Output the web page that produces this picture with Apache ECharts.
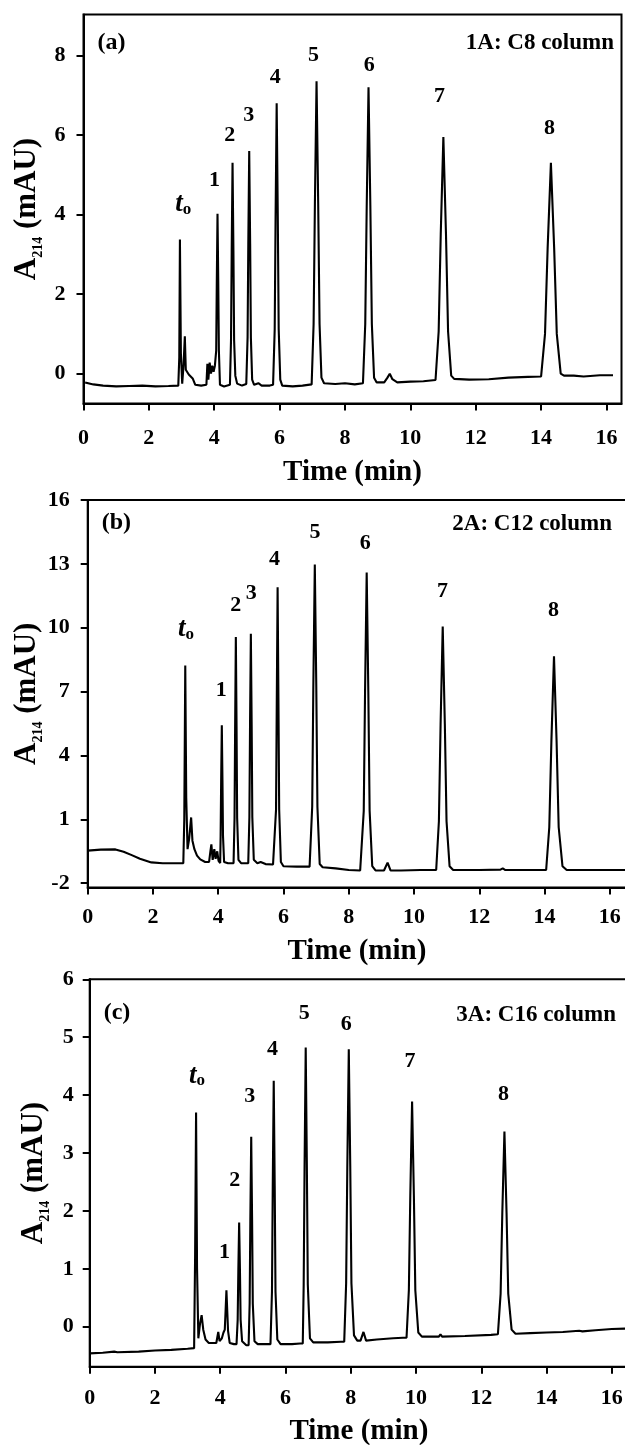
<!DOCTYPE html>
<html>
<head>
<meta charset="utf-8">
<script src="https://cdn.jsdelivr.net/npm/echarts@6/dist/echarts.min.js"></script>
<style>
  html, body { margin: 0; padding: 0; background: #fff; }
  #chart { width: 625px; height: 1445px; }
</style>
</head>
<body>
<div id="chart"></div>
<script>
// Axis ticks
const timeTicks = [0, 2, 4, 6, 8, 10, 12, 14, 16];
const yTicksA = [0, 2, 4, 6, 8];
const yTicksB = [-2, 1, 4, 7, 10, 13, 16];
const yTicksC = [0, 1, 2, 3, 4, 5, 6];

// Chromatogram traces: [time (min), A214 (mAU)]
const traceA = [
  [0.05,-0.22],[0.3,-0.27],[0.6,-0.3],[1.0,-0.32],[1.4,-0.31],[1.8,-0.3],[2.2,-0.32],[2.6,-0.31],[2.9,-0.3],
  [2.93,0.4],[2.95,3.37],[2.98,0.5],[3.02,-0.25],[3.06,0.2],[3.1,0.94],[3.13,0.1],[3.17,0.05],[3.22,-0.02],
  [3.28,0.0],[3.34,-0.12],[3.42,-0.28],[3.6,-0.3],[3.76,-0.28],
  [3.79,0.25],[3.82,-0.15],[3.86,0.28],[3.9,0.0],[3.94,0.2],[3.98,0.05],[4.02,0.2],
  [4.06,0.58],[4.078,2.3],[4.1,4.02],[4.123,2.3],[4.142,0.58],[4.175,-0.28],[4.3,-0.32],
  [4.48,-0.28],[4.513,0.84],[4.534,3.07],[4.56,5.3],[4.587,3.07],[4.608,0.84],[4.645,-0.05],[4.7,-0.25],[4.85,-0.3],
  [4.98,-0.26],[5.02,0.91],[5.042,3.26],[5.07,5.6],[5.099,3.26],[5.121,0.91],[5.16,-0.15],[5.22,-0.28],
  [5.35,-0.24],[5.45,-0.3],[5.7,-0.3],
  [5.8,-0.28],[5.85,1.12],[5.877,3.96],[5.91,6.8],[5.944,3.96],[5.972,1.12],[6.02,-0.15],[6.08,-0.3],[6.4,-0.32],[6.7,-0.3],
  [6.98,-0.27],[7.04,1.25],[7.08,4.3],[7.13,7.35],[7.18,4.3],[7.222,1.25],[7.28,-0.1],[7.36,-0.24],[7.7,-0.26],[8.0,-0.24],[8.3,-0.27],
  [8.55,-0.24],[8.62,1.25],[8.665,4.22],[8.72,7.2],[8.776,4.22],[8.822,1.25],[8.89,-0.1],[8.97,-0.22],
  [9.2,-0.22],[9.3,-0.1],[9.37,0.0],[9.45,-0.14],[9.6,-0.22],[10.0,-0.2],[10.4,-0.19],
  [10.77,-0.16],[10.866,1.06],[10.93,3.51],[11.01,5.95],[11.09,3.51],[11.154,1.06],[11.25,-0.05],[11.34,-0.13],
  [11.8,-0.15],[12.4,-0.14],[13.0,-0.1],[13.6,-0.08],
  [14.0,-0.07],[14.12,1.0],[14.2,3.15],[14.3,5.3],[14.4,3.15],[14.48,1.0],[14.6,0.0],[14.7,-0.05],
  [15.0,-0.05],[15.3,-0.07],[15.35,-0.02],[15.8,-0.04],[16.2,-0.04]
];
const traceB = [
  [0.0,-0.47],[0.4,-0.42],[0.85,-0.41],[1.1,-0.52],[1.35,-0.68],[1.6,-0.85],[1.95,-1.02],[2.3,-1.06],[2.93,-1.06],
  [2.96,1.0],[2.99,8.23],[3.02,2.0],[3.06,-0.4],[3.11,0.1],[3.17,1.09],[3.21,0.0],[3.27,-0.4],[3.35,-0.7],
  [3.45,-0.88],[3.6,-1.0],[3.72,-1.0],
  [3.76,-0.5],[3.79,-0.17],[3.83,-0.9],[3.88,-0.4],[3.92,-0.85],[3.97,-0.5],[4.01,-0.95],[4.06,-1.05],
  [4.074,0.24],[4.09,2.83],[4.11,5.42],[4.13,2.83],[4.146,0.24],[4.18,-1.0],[4.3,-1.06],
  [4.47,-1.06],[4.5,1.06],[4.518,5.31],[4.54,9.56],[4.562,5.31],[4.58,1.06],[4.62,-0.9],[4.7,-1.06],[4.85,-1.06],
  [4.92,-1.06],[4.955,1.1],[4.975,5.41],[5.0,9.72],[5.025,5.41],[5.045,1.1],[5.09,-0.9],[5.2,-1.06],
  [5.3,-1.0],[5.45,-1.1],[5.68,-1.12],
  [5.74,-1.15],[5.772,1.46],[5.795,6.68],[5.82,11.9],[5.845,6.68],[5.868,1.46],[5.92,-1.0],[6.0,-1.2],[6.4,-1.22],[6.8,-1.22],
  [6.84,-1.22],[6.88,1.59],[6.915,7.28],[6.96,12.97],[7.005,7.28],[7.04,1.59],[7.11,-1.1],[7.2,-1.25],
  [7.6,-1.3],[8.0,-1.38],[8.35,-1.4],
  [8.4,-1.4],[8.46,1.4],[8.5,7.0],[8.55,12.6],[8.6,7.0],[8.64,1.4],[8.72,-1.2],[8.82,-1.4],
  [9.08,-1.4],[9.19,-1.03],[9.28,-1.4],[9.6,-1.4],[10.2,-1.38],[10.6,-1.38],
  [10.68,-1.38],[10.763,0.91],[10.815,5.48],[10.88,10.06],[10.945,5.48],[10.997,0.91],[11.09,-1.2],[11.2,-1.38],
  [12.0,-1.38],[12.65,-1.36],[12.72,-1.3],[12.8,-1.38],[13.5,-1.38],
  [14.05,-1.38],[14.146,0.63],[14.21,4.64],[14.29,8.66],[14.37,4.64],[14.434,0.63],[14.55,-1.2],[14.68,-1.38],
  [15.5,-1.38],[16.5,-1.38]
];
const traceC = [
  [0.0,-0.46],[0.4,-0.45],[0.75,-0.43],[0.8,-0.4],[0.85,-0.44],[1.5,-0.43],[2.0,-0.41],[2.5,-0.4],[3.0,-0.38],[3.2,-0.37],
  [3.23,1.2],[3.26,3.7],[3.29,1.0],[3.33,-0.2],[3.38,0.05],[3.43,0.2],[3.48,-0.05],[3.55,-0.22],[3.65,-0.28],[3.88,-0.28],
  [3.94,-0.09],[3.98,-0.25],[4.05,-0.2],[4.1,-0.1],
  [4.14,-0.05],[4.165,0.28],[4.19,0.63],[4.215,0.28],[4.24,-0.07],[4.29,-0.28],[4.42,-0.3],
  [4.5,-0.3],[4.535,0.12],[4.555,0.96],[4.58,1.8],[4.605,0.96],[4.625,0.12],[4.67,-0.25],[4.8,-0.32],
  [4.87,-0.32],[4.902,0.4],[4.923,1.84],[4.95,3.28],[4.977,1.84],[4.998,0.4],[5.05,-0.25],[5.15,-0.3],[5.4,-0.3],
  [5.54,-0.3],[5.586,0.61],[5.61,2.43],[5.64,4.25],[5.67,2.43],[5.694,0.61],[5.75,-0.22],[5.85,-0.3],[6.2,-0.3],[6.45,-0.29],
  [6.53,-0.29],[6.558,0.73],[6.585,2.78],[6.62,4.82],[6.655,2.78],[6.684,0.73],[6.75,-0.2],[6.85,-0.27],[7.3,-0.27],[7.7,-0.26],
  [7.8,-0.26],[7.859,0.75],[7.895,2.77],[7.94,4.79],[7.985,2.77],[8.021,0.75],[8.1,-0.15],[8.2,-0.24],
  [8.3,-0.24],[8.39,-0.09],[8.47,-0.24],[8.8,-0.22],[9.3,-0.2],[9.6,-0.19],
  [9.71,-0.19],[9.781,0.63],[9.825,2.26],[9.88,3.89],[9.935,2.26],[9.979,0.63],[10.07,-0.1],[10.18,-0.17],
  [10.7,-0.17],[10.75,-0.13],[10.8,-0.17],[11.5,-0.16],[12.3,-0.14],
  [12.51,-0.13],[12.593,0.57],[12.645,1.97],[12.71,3.37],[12.775,1.97],[12.827,0.57],[12.93,-0.05],[13.05,-0.12],
  [13.5,-0.11],[14.0,-0.1],[14.5,-0.09],[15.0,-0.07],[15.05,-0.05],[15.1,-0.08],[15.5,-0.06],[16.0,-0.04],[16.5,-0.03]
];

// Peak tags (void marker t0 and analytes 1-8), anchored in data coordinates
const peakNames = ['to', '1', '2', '3', '4', '5', '6', '7', '8'];
const tagA = [[3.07,4.25],[4.02,4.86],[4.49,5.99],[5.07,6.49],[5.88,7.45],[7.05,8.0],[8.76,7.75],[10.91,6.95],[14.27,6.16]];
const tagB = [[3.03,9.9],[4.11,7.03],[4.55,11.05],[5.03,11.6],[5.74,13.19],[6.98,14.48],[8.52,13.94],[10.89,11.67],[14.29,10.78]];
const tagC = [[3.3,4.32],[4.15,1.28],[4.46,2.52],[4.92,3.97],[5.62,4.79],[6.59,5.41],[7.88,5.21],[9.83,4.58],[12.7,4.0]];

const panelLetters = ['(a)', '(b)', '(c)'];
const columnNames = ['1A: C8 column', '2A: C12 column', '3A: C16 column'];
const xTitle = 'Time (min)';

const SERIF = "'Liberation Serif', 'Times New Roman', serif";

// Layout of the three stacked panels
const panels = [
  { left: 83.5, top: 14.5, width: 538, height: 389, xMax: 16.46, yMin: -0.75, yMax: 9.03,
    yTicks: yTicksA, trace: traceA, tags: tagA, labelMargin: 24, nameGap: 55,
    yLabelMargin: 18, yTitleX: 27, letterY: 43, colRight: 614, colY: 43 },
  { left: 87.7, top: 500, width: 538.4, height: 387.5, xMax: 16.5, yMin: -2.2, yMax: 16,
    yTicks: yTicksB, trace: traceB, tags: tagB, labelMargin: 19, nameGap: 50,
    yLabelMargin: 18, yTitleX: 27, letterY: 523, colRight: 612, colY: 524 },
  { left: 89.7, top: 979.3, width: 538.4, height: 387.4, xMax: 16.5, yMin: -0.69, yMax: 6,
    yTicks: yTicksC, trace: traceC, tags: tagC, labelMargin: 21, nameGap: 50,
    yLabelMargin: 16, yTitleX: 34, letterY: 1013, colRight: 616, colY: 1015 }
];

const axisLineStyle = { color: '#000', width: 2 };
const grids = [], xAxes = [], yAxes = [], series = [], graphics = [];

panels.forEach((p, i) => {
  grids.push({
    left: p.left, top: p.top, width: p.width, height: p.height,
    show: true, borderColor: '#000', borderWidth: 2, backgroundColor: 'transparent',
    containLabel: false, outerBoundsMode: 'none'
  });
  xAxes.push({
    type: 'value', gridIndex: i, min: 0, max: p.xMax,
    axisLine: { show: true, onZero: false, lineStyle: axisLineStyle },
    axisTick: { show: true, length: 7, inside: false, lineStyle: axisLineStyle, customValues: timeTicks },
    axisLabel: { show: true, customValues: timeTicks, margin: p.labelMargin, color: '#000',
                 fontFamily: SERIF, fontWeight: 'bold', fontSize: 22 },
    splitLine: { show: false },
    name: xTitle, nameLocation: 'middle', nameGap: p.nameGap,
    nameTextStyle: { color: '#000', fontFamily: SERIF, fontWeight: 'bold', fontSize: 29 }
  });
  yAxes.push({
    type: 'value', gridIndex: i, min: p.yMin, max: p.yMax,
    axisLine: { show: true, onZero: false, lineStyle: axisLineStyle },
    axisTick: { show: true, length: 7, inside: false, lineStyle: axisLineStyle, customValues: p.yTicks },
    axisLabel: { show: true, customValues: p.yTicks, margin: p.yLabelMargin, color: '#000',
                 fontFamily: SERIF, fontWeight: 'bold', fontSize: 22 },
    splitLine: { show: false }
  });
  series.push({
    type: 'line', xAxisIndex: i, yAxisIndex: i, data: p.trace,
    showSymbol: false, symbol: 'none', smooth: false, clip: true,
    lineStyle: { color: '#000', width: 2.1 }, silent: true, z: 3
  });
  series.push({
    type: 'scatter', xAxisIndex: i, yAxisIndex: i, symbolSize: 1,
    itemStyle: { color: 'rgba(255,255,255,0)' }, silent: true, z: 4,
    data: p.tags.map((pt, k) => ({ name: peakNames[k], value: pt })),
    label: {
      show: true, position: [0, 0], align: 'center', verticalAlign: 'middle',
      color: '#000', opacity: 1, textBorderWidth: 0, textShadowBlur: 0,
      fontFamily: SERIF, fontWeight: 'bold', fontSize: 22,
      formatter: (d) => d.name === 'to' ? '{t|t}{o|o}' : d.name,
      rich: {
        t: { fontFamily: SERIF, fontWeight: 'bold', fontStyle: 'italic', fontSize: 27, color: '#000' },
        o: { fontFamily: SERIF, fontWeight: 'bold', fontSize: 17, color: '#000', padding: [10, 0, 0, 0] }
      }
    }
  });
  // panel letter and column caption
  graphics.push({
    type: 'text', x: p.left + 14, y: p.letterY,
    style: { text: panelLetters[i], fill: '#000', font: `bold 24px ${SERIF}`,
             align: 'left', verticalAlign: 'middle' }
  });
  graphics.push({
    type: 'text', x: p.colRight, y: p.colY,
    style: { text: columnNames[i], fill: '#000', font: `bold 23px ${SERIF}`,
             align: 'right', verticalAlign: 'middle' }
  });
  // y-axis title with subscript wavelength
  graphics.push({
    type: 'text', x: p.yTitleX, y: p.top + p.height / 2, rotation: Math.PI / 2,
    style: {
      text: '{m|A}{s|214}{m| (mAU)}', fill: '#000', align: 'center', verticalAlign: 'middle',
      rich: {
        m: { fontFamily: SERIF, fontWeight: 'bold', fontSize: 31, fill: '#000' },
        s: { fontFamily: SERIF, fontWeight: 'bold', fontSize: 14, fill: '#000', padding: [22, 0, 0, 0] }
      }
    }
  });
});

const chart = echarts.init(document.getElementById('chart'), null, { renderer: 'canvas' });
chart.setOption({
  animation: false,
  backgroundColor: '#fff',
  grid: grids,
  xAxis: xAxes,
  yAxis: yAxes,
  series: series,
  graphic: graphics
});
</script>
</body>
</html>
